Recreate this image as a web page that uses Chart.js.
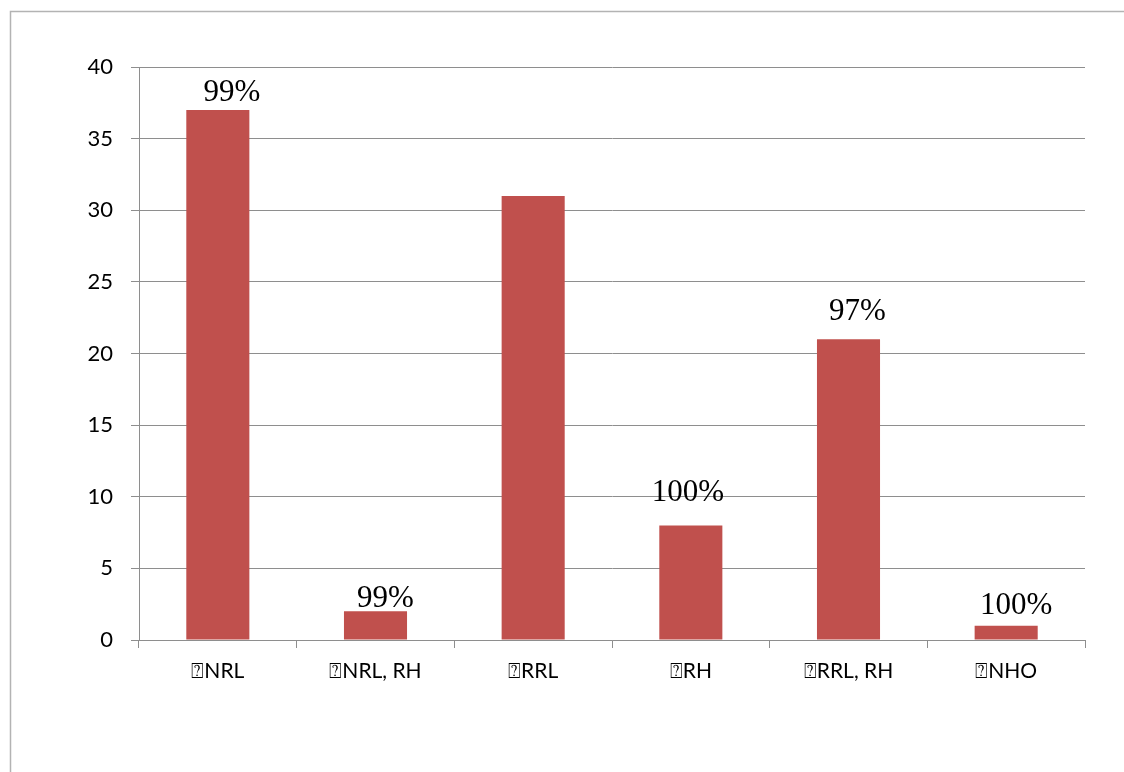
<!DOCTYPE html>
<html>
<head>
<meta charset="utf-8">
<script src="https://cdn.jsdelivr.net/npm/chart.js@4/dist/chart.umd.min.js"></script>
<style>
  html, body { margin: 0; padding: 0; background: #fff; }
  #wrap { position: relative; width: 1124px; height: 772px; }
</style>
</head>
<body>
<div id="wrap"><canvas id="c" width="1124" height="772"></canvas></div>
<script>
const categories = ['\u2370NRL', '\u2370NRL, RH', '\u2370RRL', '\u2370RH', '\u2370RRL, RH', '\u2370NHO'];
const counts = [37, 2, 31, 8, 21, 1];
const percentLabels = ['99%', '99%', '', '100%', '97%', '100%'];
const yTicks = [0, 5, 10, 15, 20, 25, 30, 35, 40];

const labelOffsets = [
  { dx: 14, dy: 9 }, { dx: 10, dy: 4 }, { dx: 0, dy: 10 },
  { dx: -3, dy: 24 }, { dx: 9, dy: 19 }, { dx: 10, dy: 12 }
];

const framePlugin = {
  id: 'frame',
  beforeDraw(chart) {
    const ctx = chart.ctx;
    ctx.save();
    ctx.fillStyle = '#ffffff';
    ctx.fillRect(0, 0, chart.width, chart.height);
    ctx.strokeStyle = '#b3b3b3';
    ctx.lineWidth = 1.5;
    ctx.beginPath();
    ctx.moveTo(10.5, chart.height);
    ctx.lineTo(10.5, 11.5);
    ctx.lineTo(chart.width, 11.5);
    ctx.stroke();
    ctx.restore();
  }
};

const pctPlugin = {
  id: 'pct',
  afterDatasetsDraw(chart) {
    const ctx = chart.ctx;
    const meta = chart.getDatasetMeta(0);
    ctx.save();
    ctx.font = '31px "Liberation Serif", serif';
    ctx.fillStyle = '#000';
    ctx.textAlign = 'center';
    ctx.textBaseline = 'alphabetic';
    meta.data.forEach((bar, i) => {
      const t = percentLabels[i];
      if (!t) return;
      const o = labelOffsets[i];
      ctx.fillText(t, bar.x + o.dx, bar.y - o.dy);
    });
    ctx.restore();
  }
};

new Chart(document.getElementById('c'), {
  type: 'bar',
  data: {
    labels: categories,
    datasets: [{
      data: counts,
      backgroundColor: '#C0504D',
      borderWidth: 0,
      barPercentage: 0.4,
      categoryPercentage: 1.0
    }]
  },
  options: {
    responsive: false,
    animation: false,
    events: [],
    layout: { padding: { left: 0, top: 67, right: 39, bottom: 72 } },
    plugins: { legend: { display: false }, tooltip: { enabled: false } },
    scales: {
      y: {
        min: 0, max: 40,
        afterBuildTicks(scale) { scale.ticks = yTicks.map(v => ({ value: v })); },
        afterFit(scale) { scale.width = 139; },
        grid: { color: '#8e8e8e', lineWidth: 1, tickLength: 8, drawTicks: true },
        border: { color: '#8e8e8e', width: 1 },
        ticks: { color: '#000', font: { family: 'Lato', size: 22 }, padding: 18 }
      },
      x: {
        afterFit(scale) { scale.height = 60; },
        grid: { offset: true, drawOnChartArea: false, color: '#8e8e8e', tickLength: 8 },
        border: { color: '#8e8e8e', width: 1 },
        ticks: { color: '#000', font: { family: 'Lato', size: 21 }, padding: 11, maxRotation: 0, autoSkip: false }
      }
    }
  },
  plugins: [framePlugin, pctPlugin]
});
</script>
</body>
</html>
